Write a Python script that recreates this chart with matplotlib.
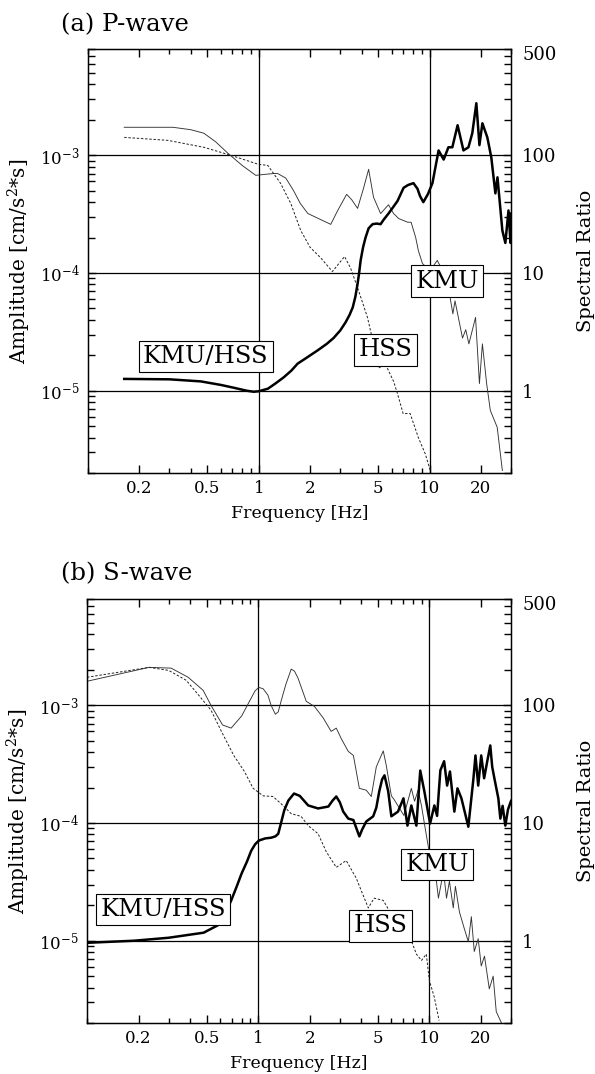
import matplotlib
matplotlib.use('Agg')
import matplotlib.pyplot as plt
from matplotlib.ticker import FixedLocator, FixedFormatter, LogLocator, NullFormatter

plt.rcParams['font.family'] = 'DejaVu Serif'
plt.rcParams['mathtext.fontset'] = 'dejavuserif'

# ---- P-wave spectra ----
p_freq_kmu = [0.163, 0.314, 0.4, 0.477, 0.56, 0.66, 0.8, 0.96, 1.1, 1.22, 1.29, 1.44, 1.6, 1.75,
              1.94, 2.24, 2.64, 2.9, 3.27, 3.5, 3.79, 4.1, 4.4, 4.7, 5.17, 5.75, 6.16, 6.6, 7.45,
              7.8, 8.3, 8.6, 9.1, 10.1, 11.1, 11.9, 12.7, 13.7, 14.1, 15.6, 16.3, 17.0, 18.6,
              19.6, 20.4, 21.6, 22.7, 24.9, 26.7]
p_amp_kmu = [1.73e-3, 1.73e-3, 1.65e-3, 1.54e-3, 1.3e-3, 1.04e-3, 8.2e-4, 6.76e-4, 6.9e-4, 7.0e-4,
             7.0e-4, 6.4e-4, 5.0e-4, 3.9e-4, 3.2e-4, 2.9e-4, 2.59e-4, 3.4e-4, 4.66e-4, 4.2e-4,
             3.54e-4, 5.2e-4, 7.6e-4, 4.4e-4, 3.2e-4, 3.8e-4, 3.2e-4, 2.9e-4, 2.7e-4, 2.7e-4,
             2.0e-4, 1.55e-4, 1.2e-4, 1.05e-4, 1.28e-4, 1.05e-4, 8.6e-5, 4.5e-5, 5.8e-5, 2.8e-5,
             3.3e-5, 2.5e-5, 4.2e-5, 1.15e-5, 2.5e-5, 1.15e-5, 6.8e-6, 4.9e-6, 2.1e-6]

p_freq_hss = [0.163, 0.293, 0.477, 0.686, 0.99, 1.13, 1.34, 1.54, 1.76, 2.0, 2.3, 2.7, 2.94, 3.18,
              3.45, 3.84, 4.33, 4.7, 5.03, 5.5, 6.16, 6.5, 7.0, 7.7, 8.6, 9.45, 10.1]
p_amp_hss = [1.42e-3, 1.34e-3, 1.17e-3, 1.0e-3, 8.4e-4, 8.2e-4, 5.8e-4, 3.9e-4, 2.3e-4, 1.65e-4,
             1.35e-4, 1.03e-4, 1.2e-4, 1.38e-4, 1.1e-4, 7.1e-5, 4.2e-5, 2.5e-5, 1.55e-5, 1.7e-5,
             1.2e-5, 9.4e-6, 6.4e-6, 6.4e-6, 4.0e-6, 2.9e-6, 2.1e-6]

p_freq_ratio = [0.163, 0.3, 0.458, 0.6, 0.714, 0.85, 0.935, 1.0, 1.13, 1.25, 1.4, 1.55, 1.69, 1.9,
                2.21, 2.5, 2.74, 3.0, 3.22, 3.4, 3.55, 3.68, 3.79, 3.87, 3.95, 4.08, 4.22, 4.4,
                4.64, 4.9, 5.17, 5.4, 5.75, 6.1, 6.5, 7.05, 7.5, 8.05, 8.5, 8.8, 9.2, 9.8, 10.4,
                11.3, 12.1, 12.9, 13.6, 14.6, 15.8, 16.9, 17.8, 18.8, 19.6, 20.4, 21.8, 23.0, 24.3,
                25.0, 26.7, 27.8, 29.0, 29.8, 30]
p_ratio = [1.26, 1.25, 1.2, 1.12, 1.06, 1.0, 0.98, 0.99, 1.04, 1.15, 1.3, 1.48, 1.7, 1.9, 2.2, 2.5,
           2.8, 3.25, 3.8, 4.4, 5.1, 6.3, 8.1, 10, 12.8, 16.5, 20, 24, 26, 26.3, 26, 28.5, 32, 36,
           41, 53, 56, 58, 52, 45, 40, 47, 58, 110, 92, 117, 117, 180, 110, 117, 154, 277, 122,
           187, 142, 96, 47.5, 65, 23, 18, 34, 18, 32]

# ---- S-wave spectra ----
s_freq_kmu = [0.1, 0.23, 0.31, 0.39, 0.477, 0.53, 0.62, 0.695, 0.8, 0.91, 0.96, 1.01, 1.07, 1.14,
              1.19, 1.26, 1.31, 1.36, 1.45, 1.56, 1.63, 1.71, 1.91, 2.13, 2.4, 2.67, 2.86, 3.06,
              3.36, 3.6, 3.9, 4.28, 4.58, 4.9, 5.38, 5.6, 6.0, 6.2, 7.1, 7.85, 8.2, 8.6, 9.0, 9.4,
              9.9, 11.0, 11.3, 12.1, 12.6, 13.1, 13.8, 14.2, 15.0, 16.0, 16.9, 17.6, 18.3, 19.3,
              20.1, 21.0, 22.4, 23.6, 24.6, 26.4]
s_amp_kmu = [1.6e-3, 2.1e-3, 2.07e-3, 1.73e-3, 1.34e-3, 1.0e-3, 6.8e-4, 6.4e-4, 8.1e-4, 1.15e-3,
             1.33e-3, 1.42e-3, 1.38e-3, 1.22e-3, 1.0e-3, 8.4e-4, 8.8e-4, 1.08e-3, 1.5e-3, 2.03e-3,
             1.95e-3, 1.7e-3, 1.08e-3, 9.8e-4, 7.8e-4, 6.0e-4, 6.4e-4, 5.2e-4, 4.06e-4, 3.75e-4,
             1.97e-4, 1.9e-4, 1.68e-4, 3.0e-4, 4.1e-4, 3.1e-4, 1.7e-4, 1.6e-4, 1.16e-4, 1.97e-4,
             1.53e-4, 1.9e-4, 1.4e-4, 9.5e-5, 6.1e-5, 3.2e-5, 2.3e-5, 3.9e-5, 2.3e-5, 3.2e-5,
             1.9e-5, 2.9e-5, 1.75e-5, 1.27e-5, 9.8e-6, 1.6e-5, 8.1e-6, 1.04e-5, 6.1e-6, 7.4e-6,
             3.9e-6, 5.0e-6, 2.5e-6, 2.0e-6]

s_freq_hss = [0.1, 0.23, 0.3, 0.38, 0.46, 0.53, 0.61, 0.72, 0.83, 0.935, 1.07, 1.22, 1.36, 1.56,
              1.78, 1.96, 2.24, 2.5, 2.86, 3.27, 3.74, 4.17, 4.4, 4.76, 5.38, 5.83, 6.6, 7.85,
              8.4, 9.0, 9.6, 10.0, 10.7, 11.4]
s_amp_hss = [1.73e-3, 2.1e-3, 1.98e-3, 1.63e-3, 1.17e-3, 9.1e-4, 6.0e-4, 3.75e-4, 2.75e-4, 1.97e-4,
             1.7e-4, 1.68e-4, 1.46e-4, 1.2e-4, 1.14e-4, 9.5e-5, 8.1e-5, 5.7e-5, 4.2e-5, 4.8e-5,
             3.4e-5, 2.3e-5, 1.9e-5, 2.3e-5, 2.2e-5, 1.8e-5, 1.7e-5, 1.0e-5, 7.7e-6, 6.8e-6,
             7.7e-6, 4.6e-6, 3.3e-6, 2.1e-6]

s_freq_ratio = [0.1, 0.188, 0.3, 0.48, 0.58, 0.64, 0.695, 0.75, 0.8, 0.86, 0.91, 0.96, 1.01, 1.1,
                1.19, 1.26, 1.31, 1.36, 1.42, 1.5, 1.62, 1.75, 1.96, 2.24, 2.57, 2.72, 2.86, 3.0,
                3.14, 3.36, 3.6, 3.75, 3.9, 4.05, 4.28, 4.7, 4.9, 5.1, 5.3, 5.47, 5.6, 5.75, 6.0,
                6.56, 7.06, 7.45, 7.85, 8.4, 8.85, 9.35, 10.1, 10.7, 11.1, 11.6, 12.2, 12.7, 13.2,
                14.0, 14.6, 15.4, 16.9, 18.1, 18.6, 19.3, 20.1, 20.9, 21.8, 22.7, 23.3, 24.0,
                25.3, 26.0, 26.8, 27.8, 28.8, 30]
s_ratio = [0.96, 1.0, 1.06, 1.17, 1.35, 1.7, 2.19, 2.9, 3.72, 4.7, 5.8, 6.6, 7.1, 7.4, 7.5, 7.7,
           8.1, 10, 12.8, 15.5, 17.8, 17, 14.1, 13.3, 13.8, 15.5, 16.8, 15, 12.5, 10.9, 10.6, 9,
           7.7, 8.8, 10.3, 11.4, 13.5, 18.6, 23.5, 25.4, 22, 18.6, 11.4, 12.5, 16.2, 9.5, 14.1,
           9.5, 27.9, 18.6, 9.9, 14.1, 11.5, 28, 33.5, 20.8, 27.4, 12.5, 19.7, 16.2, 9.3, 23.9,
           37.5, 20.8, 37.5, 24, 33.5, 45.6, 30, 23.9, 16.2, 10.9, 14, 9.5, 13, 15.4]

# curve labels: (text, freq, amplitude)
p_labels = [('KMU/HSS', 0.49, 1.95e-5), ('KMU', 12.7, 8.5e-5), ('HSS', 5.53, 2.23e-5)]
s_labels = [('KMU/HSS', 0.278, 1.84e-5), ('KMU', 11.1, 4.44e-5), ('HSS', 5.17, 1.34e-5)]

freq_lim = (0.1, 30)
amp_lim = (2e-6, 8e-3)
ratio_lim = (0.2, 800)
freq_ticks = [0.2, 0.5, 1, 2, 5, 10, 20]
freq_tick_labels = ['0.2', '0.5', '1', '2', '5', '10', '20']
freq_minor = [0.1, 0.3, 0.4, 0.6, 0.7, 0.8, 0.9, 3, 4, 6, 7, 8, 9, 30]
ratio_ticks = [1, 10, 100]
freq_grid = [1, 10]
amp_grid = [1e-3, 1e-4, 1e-5]


def draw_panel(fig, rect, title, title_y, kmu, hss, ratio, labels):
    ax = fig.add_axes(rect)
    ax.set_xscale('log')
    ax.set_yscale('log')
    ax.set_xlim(*freq_lim)
    ax.set_ylim(*amp_lim)

    for f in freq_grid:
        ax.axvline(f, color='black', lw=0.9, zorder=1)
    for a in amp_grid:
        ax.axhline(a, color='black', lw=0.9, zorder=1)

    ax.plot(kmu[0], kmu[1], color='#333333', lw=0.65, zorder=2)
    ax.plot(hss[0], hss[1], color='#222222', lw=0.7, ls=(0, (2.5, 1.8)), zorder=2)

    ax.xaxis.set_major_locator(FixedLocator(freq_ticks))
    ax.xaxis.set_major_formatter(FixedFormatter(freq_tick_labels))
    ax.xaxis.set_minor_locator(FixedLocator(freq_minor))
    ax.xaxis.set_minor_formatter(NullFormatter())
    ax.yaxis.set_major_locator(FixedLocator(amp_grid))
    ax.yaxis.set_minor_locator(LogLocator(base=10, subs=range(2, 10), numticks=20))
    ax.yaxis.set_minor_formatter(NullFormatter())
    ax.tick_params(axis='x', which='both', direction='in', top=True, labelsize=12, pad=5)
    ax.tick_params(axis='x', which='major', length=6, width=1)
    ax.tick_params(axis='x', which='minor', length=3.5, width=1)
    ax.tick_params(axis='y', which='both', direction='in', right=False, labelsize=12, pad=6)
    ax.tick_params(axis='y', which='major', length=6, width=1)
    ax.tick_params(axis='y', which='minor', length=5, width=1)
    for sp in ax.spines.values():
        sp.set_linewidth(1.0)

    ax.set_xlabel('Frequency [Hz]', fontsize=12.5)
    ax.xaxis.set_label_coords(0.5, -0.095)
    ax.xaxis.label.set_va('center')
    ax.set_ylabel('Amplitude [cm/s$^2$*s]', fontsize=14.5)
    ax.yaxis.set_label_coords(-0.13, 0.5)

    ax2 = ax.twinx()
    ax2.set_yscale('log')
    ax2.set_ylim(*ratio_lim)
    ax2.plot(ratio[0], ratio[1], color='black', lw=1.8, zorder=3)
    ax2.yaxis.set_major_locator(FixedLocator(ratio_ticks))
    ax2.yaxis.set_major_formatter(FixedFormatter([str(t) for t in ratio_ticks]))
    ax2.yaxis.set_minor_locator(LogLocator(base=10, subs=range(2, 10), numticks=20))
    ax2.yaxis.set_minor_formatter(NullFormatter())
    ax2.tick_params(axis='y', which='both', direction='in', labelsize=13, pad=8)
    ax2.tick_params(axis='y', which='major', length=6, width=1)
    ax2.tick_params(axis='y', which='minor', length=5, width=1)
    ax2.annotate('500', xy=(1, 1), xycoords='axes fraction', xytext=(8.5, -4),
                 textcoords='offset points', va='center', ha='left', fontsize=13)
    ax2.set_ylabel('Spectral Ratio', fontsize=14)
    ax2.yaxis.set_label_coords(1.156, 0.5)

    for text, f, a in labels:
        ax2.text(f, a, text, transform=ax.transData, ha='center', va='center', fontsize=17.5,
                 zorder=5, bbox=dict(boxstyle='square,pad=0.18', fc='white', ec='black', lw=0.8))

    fig.text(61 / 595, title_y, title, fontsize=17.5, va='center', ha='left')
    return ax, ax2


fig = plt.figure(figsize=(5.95, 10.74), dpi=100)
draw_panel(fig, [88 / 595, 1 - 473 / 1074, 423 / 595, 424 / 1074], '(a) P-wave', 1 - 25 / 1074,
           (p_freq_kmu, p_amp_kmu), (p_freq_hss, p_amp_hss), (p_freq_ratio, p_ratio), p_labels)
draw_panel(fig, [87 / 595, 1 - 1023 / 1074, 424 / 595, 424 / 1074], '(b) S-wave', 1 - 574 / 1074,
           (s_freq_kmu, s_amp_kmu), (s_freq_hss, s_amp_hss), (s_freq_ratio, s_ratio), s_labels)

fig.savefig('out.png', dpi=100)
